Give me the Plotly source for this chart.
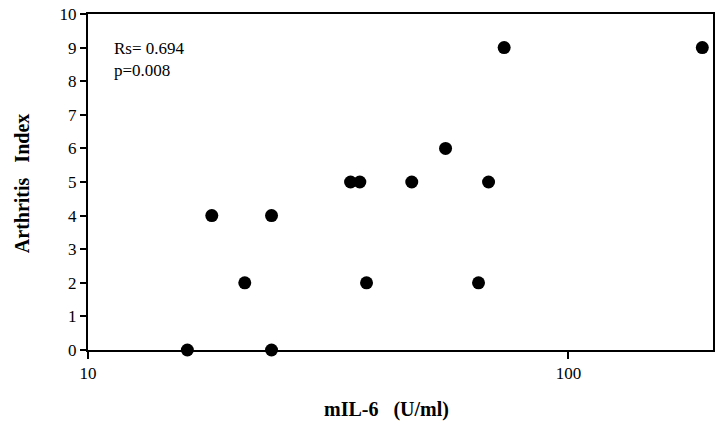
import plotly.graph_objects as go

mil6 = [16.1, 18.1, 21.2, 24.1, 24.1, 35.2, 36.8, 38.0, 47.2, 55.5, 65.0, 68.2, 73.5, 190.0]
arthritis_index = [0, 4, 2, 4, 0, 5, 5, 2, 5, 6, 2, 5, 9, 9]
y_ticks = [0, 1, 2, 3, 4, 5, 6, 7, 8, 9, 10]
x_ticks = [10, 100]

font = "Liberation Serif, Times New Roman, serif"

fig = go.Figure(go.Scatter(
    x=mil6, y=arthritis_index, mode="markers",
    marker=dict(color="black", size=13, line=dict(width=0)),
    cliponaxis=False, showlegend=False,
))

fig.update_layout(
    width=720, height=424,
    margin=dict(l=88, r=5, t=10, b=74),
    paper_bgcolor="white", plot_bgcolor="white",
    font=dict(family=font, size=17, color="black"),
    xaxis=dict(type="log", range=[1, 2.301], tickvals=x_ticks, ticktext=["10", "100"],
               showgrid=False, zeroline=False, showline=True, linecolor="black", linewidth=2,
               mirror=True, ticks="outside", ticklen=7, tickwidth=2, tickcolor="black",
               tickfont=dict(family=font, size=17)),
    yaxis=dict(range=[0, 10], tickvals=y_ticks,
               showgrid=False, zeroline=False, showline=True, linecolor="black", linewidth=2,
               mirror=True, ticks="outside", ticklen=6, tickwidth=2, tickcolor="black",
               tickfont=dict(family=font, size=17)),
    annotations=[
        dict(text="Rs= 0.694<br>p=0.008", xref="paper", yref="paper", x=(112 - 88) / 627, y=(350 - 33) / 340,
             xanchor="left", yanchor="top", showarrow=False, align="left",
             font=dict(family=font, size=17)),
        dict(text="<b>mIL-6\u00a0\u00a0\u00a0(U/ml)</b>", xref="paper", yref="paper",
             x=(387 - 88) / 627, y=-(410 - 350) / 340, xanchor="center", yanchor="middle",
             showarrow=False, font=dict(family=font, size=20)),
        dict(text="<b>Arthritis\u00a0\u00a0\u00a0Index</b>", xref="paper", yref="paper",
             x=-(88 - 22) / 627, y=(350 - 182) / 340, xanchor="center", yanchor="middle",
             textangle=-90, showarrow=False, font=dict(family=font, size=20)),
    ],
)

fig.write_html("out.html", config={"displayModeBar": False},
               post_script="document.body.style.margin='0';")
